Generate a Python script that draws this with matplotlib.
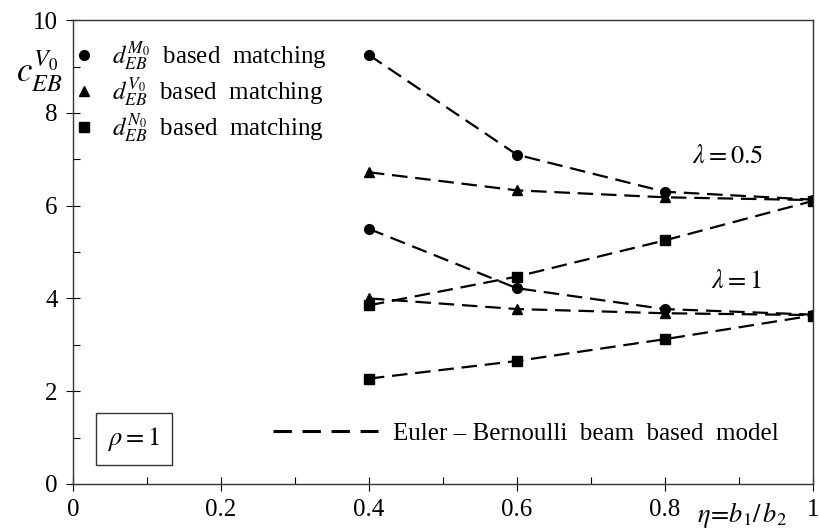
import matplotlib
matplotlib.use("Agg")
import matplotlib.pyplot as plt
from matplotlib.lines import Line2D
from matplotlib.ticker import MultipleLocator

plt.rcParams['font.family'] = ['Liberation Serif', 'DejaVu Serif']
plt.rcParams['mathtext.fontset'] = 'stix'

eta = [0.4, 0.6, 0.8, 1.0]
# lambda = 0.5
l05_M0 = [9.25, 7.10, 6.30, 6.13]
l05_V0 = [6.72, 6.33, 6.18, 6.12]
l05_N0 = [3.85, 4.47, 5.25, 6.10]
# lambda = 1
l1_M0 = [5.50, 4.22, 3.77, 3.65]
l1_V0 = [4.00, 3.77, 3.68, 3.64]
l1_N0 = [2.27, 2.65, 3.12, 3.63]

xticks = [0, 0.2, 0.4, 0.6, 0.8, 1.0]
xticklabels = ['0', '0.2', '0.4', '0.6', '0.8', '1']
yticks = [0, 2, 4, 6, 8, 10]
yticklabels = ['0', '2', '4', '6', '8', '10']

fig = plt.figure(figsize=(8.2, 5.3), dpi=100)
ax = fig.add_axes([0.089, 0.087, 0.902, 0.875])

dash = (0, (7, 3.5))
kw = dict(color='black', lw=1.6, linestyle=dash, markersize=7)
for ys, m in [(l05_M0, 'o'), (l05_V0, '^'), (l05_N0, 's'),
              (l1_M0, 'o'), (l1_V0, '^'), (l1_N0, 's')]:
    ax.plot(eta, ys, marker=m, **kw)

ax.set_xlim(0, 1)
ax.set_ylim(0, 10)
ax.set_xticks(xticks)
ax.set_xticklabels(xticklabels)
ax.set_yticks(yticks)
ax.set_yticklabels(yticklabels)
ax.xaxis.set_minor_locator(MultipleLocator(0.1))
ax.yaxis.set_minor_locator(MultipleLocator(1))
ax.tick_params(which='major', direction='inout', length=10, width=0.8,
               labelsize=18, pad=6, top=False, right=False)
ax.tick_params(which='minor', direction='in', length=5, width=0.8,
               top=False, right=False)
for s in ax.spines.values():
    s.set_linewidth(1.0)
    s.set_color('#333333')

# y label
fig.text(0.02, 0.865, r'$c_{EB}^{V_0}$', fontsize=25, ha='left', va='center')
# x label
fig.text(0.905, 0.028, r'$\eta\!=\!b_1/\,b_2$', fontsize=19, ha='center', va='center')

# series legend
handles = [Line2D([], [], color='black', marker='o', linestyle='none', markersize=7),
           Line2D([], [], color='black', marker='^', linestyle='none', markersize=7),
           Line2D([], [], color='black', marker='s', linestyle='none', markersize=7)]
labels = [r'$d_{EB}^{M_0}$  based  matching',
          r'$d_{EB}^{V_0}$  based  matching',
          r'$d_{EB}^{N_0}$  based  matching']
leg1 = ax.legend(handles, labels, loc='upper left', bbox_to_anchor=(-0.025, 0.995),
                 frameon=False, fontsize=18, handlelength=1.0, handletextpad=0.6,
                 labelspacing=0.1, borderaxespad=0.3)
ax.add_artist(leg1)

# model legend
h2 = [Line2D([], [], color='black', lw=2.2, linestyle=(0, (6, 3.5)))]
ax.legend(h2, ['Euler – Bernoulli  beam  based  model'], loc='lower right',
          bbox_to_anchor=(0.985, 0.035), frameon=False, fontsize=18,
          handlelength=4.2, handletextpad=0.6)

# lambda labels
ax.text(0.885, 7.05, r'$\lambda = 0.5$', fontsize=19, ha='center', va='center')
ax.text(0.897, 4.37, r'$\lambda = 1$', fontsize=19, ha='center', va='center')

# rho box
ax.text(0.082, 0.97, r'$\rho = 1$', fontsize=19, ha='center', va='center',
        bbox=dict(boxstyle='square,pad=0.45', fc='white', ec='#333333', lw=1.0))

fig.savefig('out.png', dpi=100)
